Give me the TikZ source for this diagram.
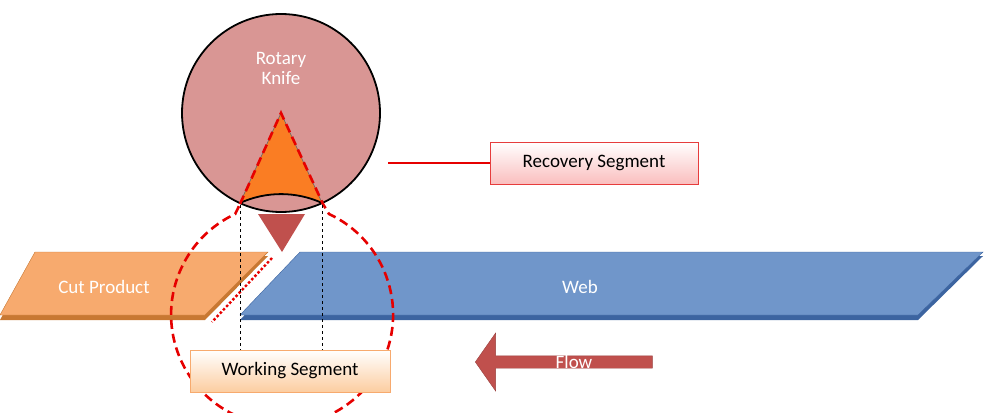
\documentclass[tikz,border=0pt]{standalone}
\usepackage{fontspec}
\setmainfont{Carlito}
\usetikzlibrary{shapes.arrows}
\begin{document}
\definecolor{knife}{RGB}{217,150,148}
\definecolor{webc}{RGB}{112,150,202}
\definecolor{webd}{RGB}{60,100,160}
\definecolor{cutc}{RGB}{247,170,110}
\definecolor{cutd}{RGB}{200,120,50}
\definecolor{orng}{RGB}{250,125,35}
\definecolor{flowc}{RGB}{192,80,77}
\definecolor{redl}{RGB}{230,0,0}
\definecolor{recb}{RGB}{230,60,60}
\definecolor{recf}{RGB}{250,190,190}
\definecolor{workb}{RGB}{247,170,110}
\definecolor{workf}{RGB}{252,205,160}
\begin{tikzpicture}[x=1pt,y=-1pt,
  lbl/.style={font=\fontsize{19}{22}\selectfont},
  wlbl/.style={lbl,text=white},
  box/.style={draw=#1,line width=1pt,minimum height=42pt,inner xsep=8pt},
  red/.style={draw=redl,line width=2.6pt}]
\useasboundingbox (0,0) rectangle (987,412);
% web
\fill[webd] (300,256) -- (983,256) -- (918,320) -- (240,320) -- cycle;
\draw[webd,fill=webc] (300,252) -- (983,252) -- (918,315) -- (240,315) -- cycle;
\node[wlbl] (web) at (580,287) {Web};
% cut product
\fill[cutd] (35,256) -- (268,256) -- (205,320) -- (0,320) -- cycle;
\draw[cutd,fill=cutc] (35,252) -- (268,252) -- (205,315) -- (0,315) -- cycle;
\node[wlbl] (cut) at (104,287) {Cut Product};
% knife
\node[circle,draw=black,line width=1.8pt,fill=knife,minimum size=198pt,inner sep=0] (knife) at (281,113) {};
\node[wlbl,align=center] (kl) at (281,68) {Rotary\\[-2pt]Knife};
\fill[orng,draw=black!60,line width=0.6pt] (281,113) -- (240,203) arc[start angle=245.5,end angle=294.5,radius=99] -- cycle;
\draw[black,line width=1.8pt] (240,203) arc[start angle=245.5,end angle=294.5,radius=99];
\fill[flowc] (258,214) -- (305,214) -- (282,252) -- cycle;
% recovery outline
\draw[red,dash pattern=on 9pt off 5pt] (240,204) -- (281,113) -- (323,204) -- (329,214)
  arc[start angle=-65,end angle=245,radius=111] -- cycle;
\draw[red,dotted,line width=2.4pt] (272,258) -- (212,322);
% dashed verticals
\coordinate (v1t) at (240,205); \coordinate (v1b) at (240,350);
\coordinate (v2t) at (322,205); \coordinate (v2b) at (322,350);
\draw[dashed,line width=0.8pt] (v1t) -- (v1b);
\draw[dashed,line width=0.8pt] (v2t) -- (v2b);
% labels
\node[box=recb,lbl,top color=white,bottom color=recf,minimum width=208pt] (rec) at (594,163) {Recovery Segment};
\draw[red,line width=2.2pt] (388,163) -- (rec.west);
\node[box=workb,lbl,top color=white,bottom color=workf,minimum width=200pt] (work) at (290,371) {Working Segment};
% flow arrow
\node[single arrow,shape border rotate=180,fill=flowc,draw=flowc!80!black,minimum height=177pt,minimum width=58pt,single arrow head extend=13pt,single arrow tip angle=110] (flow) at (566,362) {};
\node[wlbl] at (574,362) {Flow};
\end{tikzpicture}
\end{document}
